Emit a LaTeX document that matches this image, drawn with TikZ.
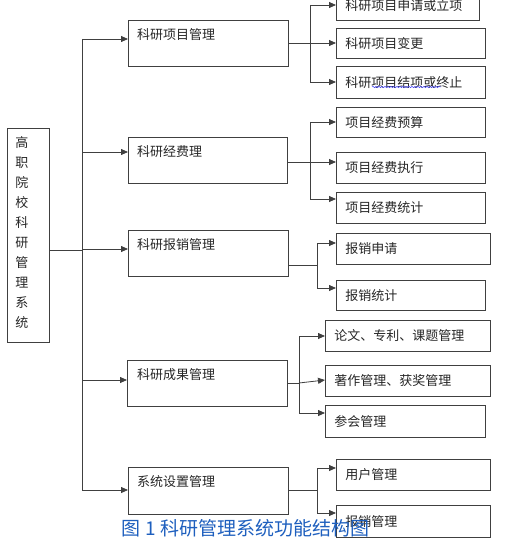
\documentclass[tikz,border=0pt]{standalone}
\usepackage{fontspec}
\setmainfont{Noto Sans CJK SC}
\usetikzlibrary{arrows.meta,decorations.pathmorphing}
\definecolor{linec}{RGB}{64,64,64}
\definecolor{capblue}{RGB}{30,95,190}
\begin{document}
\begin{tikzpicture}[x=1pt,y=-1pt,
  every node/.style={font=\fontsize{13}{13}\selectfont, text=black!85},
  rootbox/.style={draw=linec, line width=0.8pt, anchor=north west, inner sep=0pt, minimum width=42pt, minimum height=214pt},
  lvtwo/.style={draw=linec, line width=0.8pt, anchor=north west, inner sep=0pt, minimum height=46pt},
  lvthree/.style={draw=linec, line width=0.8pt, anchor=north west, inner xsep=9pt, inner ysep=0pt, align=left},
  lbl/.style={anchor=west, inner sep=0pt},
  conn/.style={draw=linec, line width=0.8pt},
  arr/.style={conn, -{Triangle[length=7pt,width=6pt]}}]
\useasboundingbox (0,0) rectangle (525,540);
\clip (0,0) rectangle (525,540);

% root
\node[rootbox] (root) at (7,128) {};
\node[align=center, inner sep=0pt, font=\fontsize{13}{20}\selectfont] (roottxt) at (22,233)
  {高\\职\\院\\校\\科\\研\\管\\理\\系\\统};

% level two
\node[lvtwo, minimum width=160pt] (b1) at (128,20) {};
\node[lvtwo, minimum width=159pt] (b2) at (128,137) {};
\node[lvtwo, minimum width=160pt] (b3) at (128,230) {};
\node[lvtwo, minimum width=160pt] (b4) at (127,360) {};
\node[lvtwo, minimum width=160pt, minimum height=47pt] (b5) at (128,467) {};
\node[lbl] (b1t) at ([xshift=9pt,yshift=-15pt]b1.north west) {科研项目管理};
\node[lbl] (b2t) at ([xshift=9pt,yshift=-15pt]b2.north west) {科研经费理};
\node[lbl] (b3t) at ([xshift=9pt,yshift=-15pt]b3.north west) {科研报销管理};
\node[lbl] (b4t) at ([xshift=10pt,yshift=-15pt]b4.north west) {科研成果管理};
\node[lbl] (b5t) at ([xshift=9pt,yshift=-15pt]b5.north west) {系统设置管理};

% level three
\node[lvthree, text width=125pt, minimum height=30pt] (c11) at (336,-10) {科研项目申请或立项};
\node[lvthree, text width=131pt, minimum height=30pt] (c12) at (336,28) {科研项目变更};
\node[lvthree, text width=131pt, minimum height=32pt] (c13) at (336,66) {科研项目结项或终止};
\node[lvthree, text width=131pt, minimum height=30pt] (c21) at (336,107) {项目经费预算};
\node[lvthree, text width=131pt, minimum height=31pt] (c22) at (336,152) {项目经费执行};
\node[lvthree, text width=131pt, minimum height=31pt] (c23) at (336,192) {项目经费统计};
\node[lvthree, text width=136pt, minimum height=31pt] (c31) at (336,233) {报销申请};
\node[lvthree, text width=131pt, minimum height=30pt] (c32) at (336,280) {报销统计};
\node[lvthree, text width=147pt, minimum height=31pt] (c41) at (325,320) {论文、专利、课题管理};
\node[lvthree, text width=147pt, minimum height=31pt] (c42) at (325,365) {著作管理、获奖管理};
\node[lvthree, text width=142pt, minimum height=32pt] (c43) at (325,405) {参会管理};
\node[lvthree, text width=136pt, minimum height=31pt] (c51) at (336,459) {用户管理};
\node[lvthree, text width=136pt, minimum height=32pt] (c52) at (336,505) {报销管理};

% spell-check underline
\coordinate (u1) at (372,87);
\coordinate (u2) at (441,87);
\draw[blue!70, line width=0.5pt, decorate, decoration={snake, amplitude=0.7pt, segment length=3pt}] (u1) -- (u2);

% trunk
\coordinate (j0) at (82,250);
\coordinate (t1) at (82,39);
\coordinate (t2) at (82,152);
\coordinate (t3) at (82,249);
\coordinate (t4) at (82,380);
\coordinate (t5) at (82,490);
\draw[conn] (j0 -| root.east) -- (j0);
\draw[conn] (t1) -- (t5);
\draw[arr] (t1) -- (t1 -| b1.west);
\draw[arr] (t2) -- (t2 -| b2.west);
\draw[arr] (t3) -- (t3 -| b3.west);
\draw[arr] (t4) -- (t4 -| b4.west);
\draw[arr] (t5) -- (t5 -| b5.west);

% group 1
\coordinate (g1) at (310,43);
\coordinate (g1a) at (310,5);
\coordinate (g1c) at (310,82);
\draw[conn] (g1 -| b1.east) -- (g1);
\draw[conn] (g1a) -- (g1c);
\draw[arr] (g1a) -- (g1a -| c11.west);
\draw[arr] (g1) -- (g1 -| c12.west);
\draw[arr] (g1c) -- (g1c -| c13.west);

% group 2
\coordinate (g2) at (310,162);
\coordinate (g2a) at (310,122);
\coordinate (g2c) at (310,199);
\draw[conn] (g2 -| b2.east) -- (g2);
\draw[conn] (g2a) -- (g2c);
\draw[arr] (g2a) -- (g2a -| c21.west);
\draw[arr] (g2) -- (g2 -| c22.west);
\draw[arr] (g2c) -- (g2c -| c23.west);

% group 3
\coordinate (g3) at (317,265);
\coordinate (g3a) at (317,243);
\coordinate (g3c) at (317,288);
\draw[conn] (g3 -| b3.east) -- (g3);
\draw[conn] (g3a) -- (g3c);
\draw[arr] (g3a) -- (g3a -| c31.west);
\draw[arr] (g3c) -- (g3c -| c32.west);

% group 4
\coordinate (g4) at (299,383);
\coordinate (g4a) at (299,336);
\coordinate (g4c) at (299,413);
\coordinate (g4e) at (325,380);
\draw[conn] (g4 -| b4.east) -- (g4);
\draw[conn] (g4a) -- (g4c);
\draw[arr] (g4a) -- (g4a -| c41.west);
\draw[arr] (g4) -- (g4e);
\draw[arr] (g4c) -- (g4c -| c43.west);

% group 5
\coordinate (g5) at (317,490);
\coordinate (g5a) at (317,468);
\coordinate (g5c) at (317,513);
\draw[conn] (g5 -| b5.east) -- (g5);
\draw[conn] (g5a) -- (g5c);
\draw[arr] (g5a) -- (g5a -| c51.west);
\draw[arr] (g5c) -- (g5c -| c52.west);

% caption
\node[font=\fontsize{19}{19}\selectfont, text=capblue, inner sep=0pt] (cap) at (245.5,528) {图 1 科研管理系统功能结构图};
\end{tikzpicture}
\end{document}
